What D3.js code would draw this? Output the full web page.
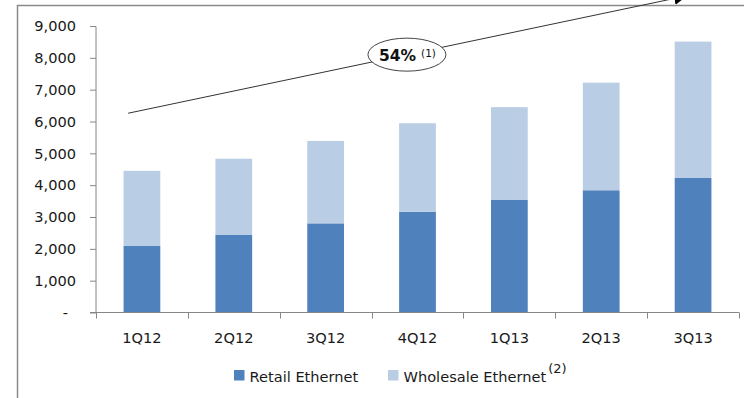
<!DOCTYPE html>
<html><head><meta charset="utf-8">
<script src="https://cdn.jsdelivr.net/npm/d3@7/dist/d3.min.js"></script>
<style>
html,body{margin:0;padding:0;background:#fff;}
svg{display:block;font-family:"DejaVu Sans",sans-serif;}
</style></head>
<body><svg id="c" width="744" height="398"></svg>
<script>
const categories = ["1Q12","2Q12","3Q12","4Q12","1Q13","2Q13","3Q13"];
const retail     = [2090, 2435, 2800, 3165, 3535, 3840, 4225];
const wholesale  = [2360, 2395, 2590, 2780, 2915, 3380, 4285];
const yTicks     = [0,1000,2000,3000,4000,5000,6000,7000,8000,9000];
const seriesNames = ["Retail Ethernet", "Wholesale Ethernet"];
const trendStart = ["1Q12", 6260];
const trendEnd   = ["3Q13", 9940];
const trendLabel = "54%";
const trendNote  = "(1)";
const wholesaleNote = "(2)";

const colors = ["#4F81BD", "#B9CDE5"];
const svg = d3.select("#c");
const axisColor = "#868686";

// frame
svg.append("path").attr("d","M17.5,398 V5.5 H744").attr("fill","none")
  .attr("stroke","#8a8a8a").attr("stroke-width",1.5);

const x = d3.scaleBand().domain(categories).range([96, 739]).padding(0);
const y = d3.scaleLinear().domain([0, 9000]).range([312.5, 26]);
const bw = x.bandwidth()*0.4;

// stacked data
const rows = categories.map((c,i)=>({cat:c, retail:retail[i], wholesale:wholesale[i]}));
const stack = d3.stack().keys(["retail","wholesale"])(rows);

svg.append("g").selectAll("g").data(stack).join("g")
  .attr("fill",(d,i)=>colors[i])
  .selectAll("rect").data(d=>d).join("rect")
  .attr("x",d=>x(d.data.cat)+x.bandwidth()/2-bw/2)
  .attr("width",bw)
  .attr("y",d=>y(d[1]))
  .attr("height",d=>y(d[0])-y(d[1]));

// y axis
const yAxis = d3.axisLeft(y).tickValues(yTicks).tickSize(6).tickPadding(14)
  .tickFormat(d=> d===0 ? "-" : d3.format(",")(d));
const gy = svg.append("g").attr("transform","translate(96,0)").call(yAxis);
gy.select(".domain").attr("stroke",axisColor).attr("d","M-6,26.5H0V312.5");
gy.selectAll(".tick line").attr("stroke",axisColor);
gy.selectAll(".tick text").attr("fill","#1a1a1a").attr("font-size","14.6px")
  .attr("font-family","DejaVu Sans, sans-serif")
  .attr("dx",d=>d===0?-8:0);

// x axis
const gx = svg.append("g");
gx.append("line").attr("x1",90).attr("x2",739).attr("y1",312.5).attr("y2",312.5).attr("stroke",axisColor);
const bounds = categories.map(c=>x(c)).concat([x(categories[categories.length-1])+x.bandwidth()]);
gx.selectAll("line.t").data(bounds).join("line").attr("class","t")
  .attr("x1",d=>Math.round(d)+0.5).attr("x2",d=>Math.round(d)+0.5)
  .attr("y1",312.5).attr("y2",318.5).attr("stroke",axisColor);
gx.selectAll("text").data(categories).join("text")
  .attr("x",d=>x(d)+x.bandwidth()/2).attr("y",343)
  .attr("text-anchor","middle").attr("font-size","14.6px").attr("fill","#1a1a1a").text(d=>d);

// trend arrow
const defs = svg.append("defs");
defs.append("marker").attr("id","ah").attr("viewBox","0 0 10 10").attr("refX",9).attr("refY",5)
  .attr("markerWidth",13).attr("markerHeight",13).attr("markerUnits","userSpaceOnUse")
  .attr("orient","auto").append("path").attr("d","M0,0 L10,5 L0,10 z").attr("fill","#000");
const x0 = x(trendStart[0]) + x.bandwidth()*0.35, y0 = y(trendStart[1]);
const x1 = x(trendEnd[0]) + x.bandwidth()*0.42, y1 = y(trendEnd[1]);
svg.append("line").attr("x1",x0).attr("y1",y0).attr("x2",x1).attr("y2",y1)
  .attr("stroke","#333").attr("stroke-width",1).attr("marker-end","url(#ah)");
const mx = x0 + (x1-x0)*0.5, my = y0 + (y1-y0)*0.5;
svg.append("ellipse").attr("cx",mx).attr("cy",my).attr("rx",39).attr("ry",16.5)
  .attr("fill","#fff").attr("stroke","#444").attr("stroke-width",1);
const lbl = svg.append("text").attr("x",mx-28).attr("y",my+6).attr("fill","#111");
lbl.append("tspan").attr("font-weight","bold").attr("font-size","15.5px").text(trendLabel);
lbl.append("tspan").attr("dx",5).attr("dy",-4).attr("font-size","10.5px").text(trendNote);

// legend
const lg = svg.append("g");
const legX = [234, 388];
seriesNames.forEach((n,i)=>{
  lg.append("rect").attr("x",legX[i]).attr("y",370).attr("width",10.5).attr("height",10.5).attr("fill",colors[i]);
  const t = lg.append("text").attr("x",legX[i]+15.5).attr("y",381.5).attr("font-size","14.6px").attr("fill","#1a1a1a").text(n);
  if(i===1){ t.append("tspan").attr("dy",-9).attr("dx",2).attr("font-size","13px").text(wholesaleNote); }
});
</script></body></html>
